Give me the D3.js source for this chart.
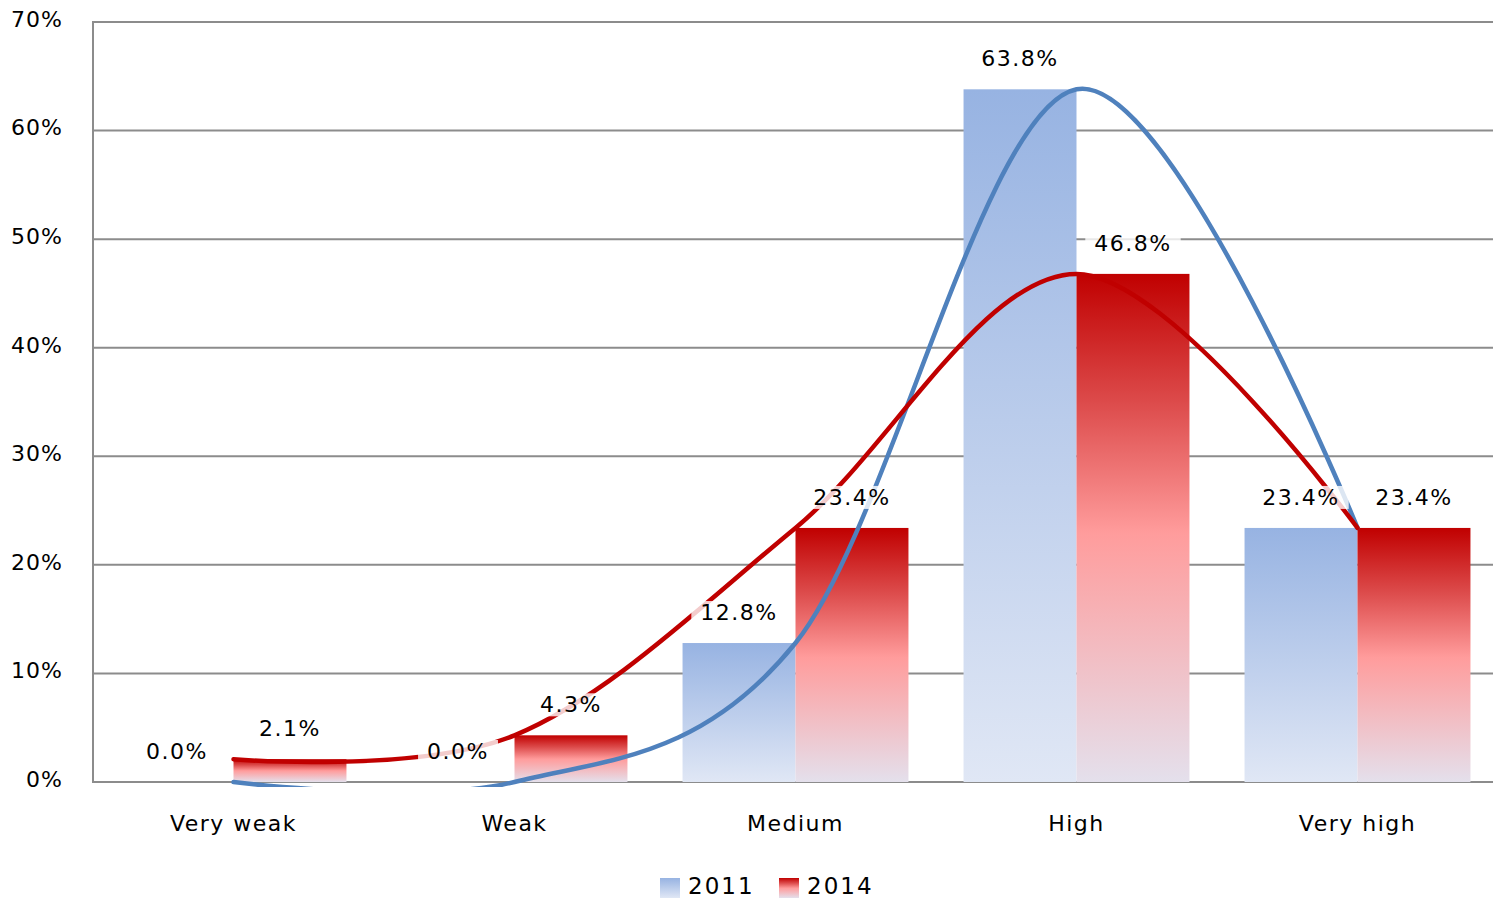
<!DOCTYPE html>
<html><head><meta charset="utf-8">
<script src="https://cdn.jsdelivr.net/npm/d3@7"></script>
<style>
html,body{margin:0;padding:0;background:#fff;}
svg{display:block;font-family:"DejaVu Sans",Verdana,sans-serif;}
</style></head>
<body>
<svg id="c" width="1493" height="900"></svg>
<script>
const categories = ["Very weak","Weak","Medium","High","Very high"];
const seriesNames = ["2011","2014"];
const values2011 = [0.0, 0.0, 12.8, 63.8, 23.4];
const values2014 = [2.1, 4.3, 23.4, 46.8, 23.4];
const yTicks = [0,10,20,30,40,50,60,70];

const svg = d3.select("#c");
const L = 93, R = 1493, T = 22, B = 782;

const x0 = d3.scaleBand().domain(categories).range([L,1498]).paddingInner(0.196).paddingOuter(0.098);
const x1 = d3.scaleBand().domain(seriesNames).range([0,x0.bandwidth()]);
const y = d3.scaleLinear().domain([0,70]).range([B,T]);

const defs = svg.append("defs");
const gb = defs.append("linearGradient").attr("id","gBlue").attr("x1",0).attr("y1",0).attr("x2",0).attr("y2",1);
gb.append("stop").attr("offset","0%").attr("stop-color","#97b3e2");
gb.append("stop").attr("offset","100%").attr("stop-color","#e0e7f5");
const gr = defs.append("linearGradient").attr("id","gRed").attr("x1",0).attr("y1",0).attr("x2",0).attr("y2",1);
gr.append("stop").attr("offset","0%").attr("stop-color","#c00000");
gr.append("stop").attr("offset","25%").attr("stop-color","#dc4a4a");
gr.append("stop").attr("offset","51%").attr("stop-color","#ff9c9c");
gr.append("stop").attr("offset","100%").attr("stop-color","#e4e0ec");
defs.append("clipPath").attr("id","clip").append("rect")
  .attr("x",L).attr("y",0).attr("width",R-L).attr("height",B+5);

const fills = {"2011":"url(#gBlue)","2014":"url(#gRed)"};
const lineColors = {"2011":"#4f81bd","2014":"#c00000"};
const data = {"2011":values2011,"2014":values2014};

// gridlines
svg.append("g").selectAll("line").data(yTicks).join("line")
  .attr("x1",L).attr("x2",R).attr("y1",d=>y(d)).attr("y2",d=>y(d))
  .attr("stroke","#8c8c8c").attr("stroke-width",2);
svg.append("line").attr("x1",L).attr("x2",L).attr("y1",T-1).attr("y2",B+1)
  .attr("stroke","#8c8c8c").attr("stroke-width",2);

// y axis labels
const ya = svg.append("g").attr("transform",`translate(${L},0)`)
  .call(d3.axisLeft(y).tickValues(yTicks).tickFormat(d=>d+"%").tickSize(0).tickPadding(30));
ya.select(".domain").remove();
ya.selectAll("text").attr("font-size",22).attr("fill","#000").attr("dy","0.2em")
  .style("letter-spacing","1px").attr("font-family","DejaVu Sans");

// x axis labels
const xa = svg.append("g").attr("transform",`translate(0,${B})`)
  .call(d3.axisBottom(x0).tickSize(0).tickPadding(33));
xa.select(".domain").remove();
xa.selectAll("text").attr("font-size",22).attr("fill","#000")
  .style("letter-spacing","1.5px").attr("font-family","DejaVu Sans");

// bars
seriesNames.forEach(s=>{
  svg.append("g").selectAll("rect").data(categories).join("rect")
    .attr("x",(c)=>x0(c)+x1(s))
    .attr("width",x1.bandwidth())
    .attr("y",(c,i)=>y(data[s][i]))
    .attr("height",(c,i)=>B-y(data[s][i]))
    .attr("fill",fills[s]);
});

// lines
const line = d3.line().curve(d3.curveCardinal.tension(0))
  .x(d=>x0(d.c)+x0.bandwidth()/2).y(d=>y(d.v));
const lg = svg.append("g").attr("clip-path","url(#clip)");
["2011","2014"].forEach(s=>{
  lg.append("path").datum(categories.map((c,i)=>({c,v:data[s][i]})))
    .attr("d",line).attr("fill","none").attr("stroke",lineColors[s])
    .attr("stroke-width",4.5).attr("stroke-linecap","round");
});

// labels
const lab = svg.append("g");
seriesNames.forEach(s=>{
  categories.forEach((c,i)=>{
    const v = data[s][i];
    const g = lab.append("g");
    const t = g.append("text").attr("x",x0(c)+x1(s)+x1.bandwidth()/2).attr("y",y(v)-23)
      .attr("text-anchor","middle").attr("font-size",22).attr("fill","#000")
      .style("letter-spacing","1.5px").text(v.toFixed(1)+"%");
    const bb = t.node().getBBox();
    g.insert("rect","text").attr("x",bb.x-9).attr("y",bb.y+1).attr("width",bb.width+18).attr("height",bb.height-2)
      .attr("fill","#fff").attr("fill-opacity",0.8);
  });
});

// legend
const leg = svg.append("g");
const legX = {"2011":660,"2014":779};
seriesNames.forEach(s=>{
  leg.append("rect").attr("x",legX[s]).attr("y",878).attr("width",20).attr("height",20).attr("fill",fills[s]);
  leg.append("text").attr("x",legX[s]+28).attr("y",894).attr("font-size",23).attr("fill","#000")
    .style("letter-spacing","2px").text(s);
});
</script>
</body></html>
